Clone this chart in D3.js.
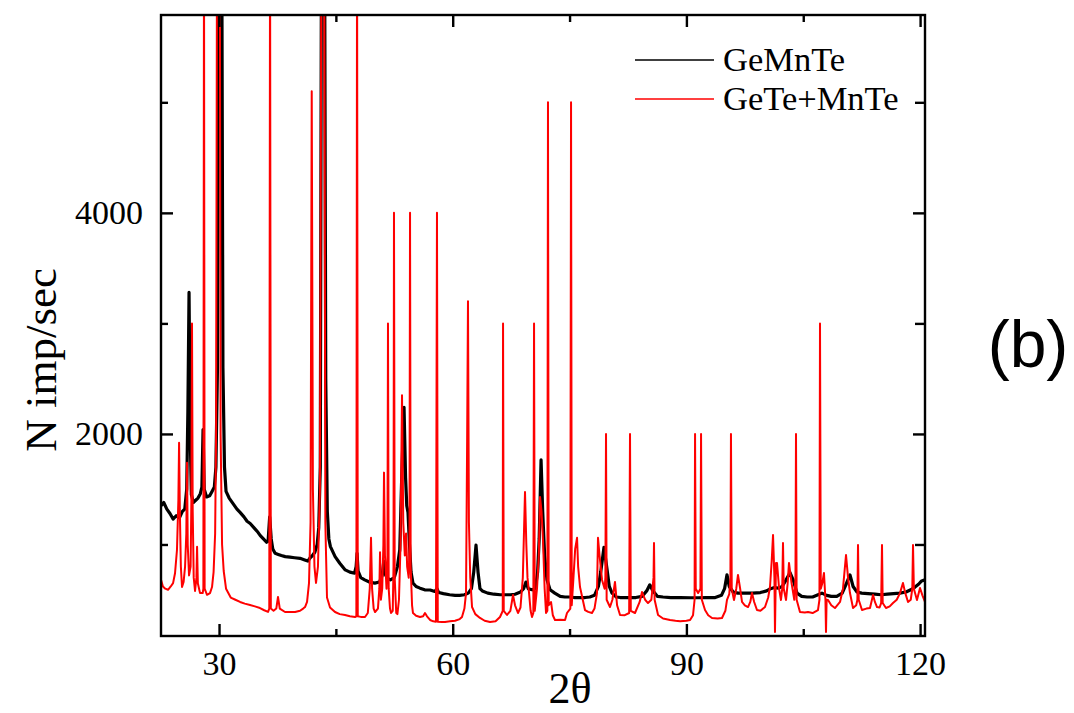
<!DOCTYPE html>
<html><head><meta charset="utf-8">
<script src="https://cdn.jsdelivr.net/npm/d3@7"></script>
<style>body{margin:0;background:#fff}svg{display:block}</style>
</head><body><svg id="c" width="1074" height="713"></svg>
<script>
const seriesNames = ["GeMnTe", "GeTe+MnTe"];
const seriesColors = ["#000000", "#ff0000"];
const xMajorTicks = [30, 60, 90, 120];
const xMinorTicks = [45, 75, 105];
const yMajorTicks = [2000, 4000];
const yMinorTicks = [1000, 3000, 5000];

// GeMnTe: [2theta, N imp/sec]
const geMnTe = [[22.55,1350],[22.9,1380],[23.3,1320],[23.7,1280],[24.1,1230],[24.5,1260],[24.9,1240],[25.3,1300],[25.6,1320],[25.85,1500],[26.0,2200],[26.15,3280],[26.3,2000],[26.45,1450],[26.7,1380],[27.0,1400],[27.3,1420],[27.6,1460],[27.8,1520],[27.95,2040],[28.1,1500],[28.4,1430],[28.8,1440],[29.1,1480],[29.4,1520],[29.6,1700],[29.8,2600],[29.95,6500],[30.35,6500],[30.5,2600],[30.7,1700],[30.9,1480],[31.3,1420],[31.8,1370],[32.3,1320],[32.7,1290],[33.2,1250],[33.6,1210],[34.0,1190],[34.5,1150],[35.0,1110],[35.3,1080],[35.7,1050],[36.1,1020],[36.3,1030],[36.5,1250],[36.7,1050],[36.9,960],[37.2,920],[37.6,910],[38.0,900],[38.5,890],[39.1,885],[39.7,880],[40.4,875],[41.0,860],[41.4,850],[41.7,880],[42.0,900],[42.3,930],[42.6,1000],[42.8,1150],[43.0,1700],[43.15,6500],[43.55,6500],[43.7,2500],[43.9,1300],[44.1,1050],[44.3,980],[44.9,890],[45.5,830],[46.2,770],[46.8,750],[47.4,740],[47.6,800],[47.72,920],[47.85,760],[48.2,700],[48.7,680],[49.3,660],[50.0,650],[50.6,660],[50.95,720],[51.15,850],[51.4,720],[51.7,690],[52.0,680],[52.5,700],[52.9,800],[53.2,950],[53.45,1600],[53.75,2240],[53.95,1600],[54.1,1350],[54.26,1290],[54.45,1000],[54.65,750],[54.9,650],[55.3,620],[55.8,605],[56.4,590],[57.1,588],[57.7,575],[57.98,600],[58.2,565],[58.8,555],[59.6,545],[60.3,540],[60.9,540],[61.5,545],[62.0,560],[62.4,600],[62.7,750],[62.99,995],[63.25,750],[63.5,600],[63.8,580],[64.5,560],[65.3,550],[66.1,545],[66.8,545],[67.4,545],[68.0,550],[68.7,570],[69.1,600],[69.4,660],[69.7,600],[70.2,590],[70.6,600],[70.9,750],[71.1,1050],[71.34,1765],[71.55,1300],[71.8,900],[72.1,680],[72.5,590],[73.1,560],[73.8,530],[74.4,525],[75.0,525],[75.6,520],[76.3,520],[77.0,520],[77.6,525],[78.2,540],[78.7,620],[79.0,750],[79.42,975],[79.8,780],[80.1,620],[80.45,560],[81.0,525],[81.5,520],[82.5,520],[83.5,520],[84.3,530],[84.9,580],[85.3,635],[85.7,580],[86.3,530],[87.0,525],[88.0,520],[89.2,520],[90.5,518],[91.5,518],[92.5,520],[93.7,520],[94.5,540],[94.9,600],[95.21,725],[95.5,620],[96.0,570],[96.6,560],[97.5,560],[98.5,560],[99.5,565],[100.3,580],[100.8,600],[101.3,610],[101.8,605],[102.3,620],[102.8,680],[103.3,745],[103.7,680],[104.2,560],[104.8,530],[105.5,525],[106.2,525],[106.9,545],[107.4,560],[108.0,540],[108.6,530],[109.3,530],[110.0,560],[110.5,640],[111.0,725],[111.4,620],[111.9,570],[112.5,560],[113.3,555],[114.2,550],[115.0,545],[115.8,550],[116.6,555],[117.4,560],[118.2,570],[118.8,590],[119.35,615],[119.8,640],[120.2,670],[120.63,680]];

// GeTe+MnTe: [2theta, N imp/sec]
const geTeMnTe = [[22.55,680],[22.8,620],[23.1,600],[23.45,590],[23.8,620],[24.1,650],[24.35,740],[24.6,950],[24.78,1400],[24.87,1920],[24.97,1300],[25.1,800],[25.25,615],[25.45,660],[25.64,800],[25.8,1100],[25.89,1740],[25.98,1000],[26.15,720],[26.35,800],[26.45,1400],[26.53,3000],[26.62,1300],[26.75,700],[26.92,580],[27.1,700],[27.18,980],[27.28,650],[27.56,560],[27.9,560],[27.99,600],[28.07,6500],[28.15,600],[28.46,545],[28.84,560],[29.1,615],[29.3,750],[29.5,1100],[29.62,2000],[29.74,6500],[30.1,6500],[30.2,2000],[30.39,1000],[30.6,760],[30.9,600],[31.5,520],[32.1,500],[32.7,480],[33.3,465],[33.98,452],[34.6,440],[35.26,425],[35.8,405],[36.29,390],[36.45,420],[36.55,6500],[36.65,420],[37.0,400],[37.35,420],[37.57,525],[37.8,420],[38.47,389],[39.1,390],[39.76,389],[40.4,400],[40.8,420],[41.04,434],[41.3,480],[41.55,650],[41.75,1200],[41.9,5100],[42.05,1500],[42.25,800],[42.45,652],[42.7,800],[42.95,1500],[43.15,6500],[43.5,6500],[43.65,1200],[43.74,900],[43.86,520],[44.25,430],[44.89,389],[45.5,370],[46.17,362],[46.8,350],[47.46,344],[47.63,350],[47.72,6500],[47.81,350],[48.2,345],[48.74,344],[49.1,380],[49.35,600],[49.51,1060],[49.65,600],[49.85,420],[50.03,389],[50.4,420],[50.58,600],[50.67,930],[50.78,500],[50.95,600],[51.1,1000],[51.18,1650],[51.3,900],[51.5,600],[51.62,900],[51.69,3000],[51.78,600],[51.95,420],[52.08,380],[52.3,400],[52.4,800],[52.46,4000],[52.55,700],[52.75,380],[52.9,370],[53.1,500],[53.3,1000],[53.49,2350],[53.65,1200],[53.85,900],[54.01,1100],[54.15,800],[54.35,700],[54.45,1000],[54.52,4000],[54.6,800],[54.78,450],[54.9,380],[55.3,355],[55.8,344],[56.2,350],[56.44,380],[56.7,350],[57.09,317],[57.5,305],[57.85,300],[57.98,4000],[58.08,300],[58.6,299],[59.01,299],[59.65,305],[60.3,310],[60.9,325],[61.19,344],[61.5,420],[61.71,560],[61.85,1930],[61.96,3200],[62.08,1200],[62.25,700],[62.48,434],[62.9,370],[63.5,335],[64.1,310],[64.79,299],[65.5,305],[66.07,344],[66.3,380],[66.42,400],[66.46,3000],[66.55,400],[66.97,362],[67.4,400],[67.74,543],[68.0,450],[68.38,380],[68.7,430],[69.0,700],[69.28,1475],[69.45,1000],[69.6,700],[69.8,560],[70.0,400],[70.18,344],[70.35,380],[70.44,3000],[70.53,400],[70.82,600],[71.05,900],[71.21,1430],[71.4,1300],[71.59,1041],[71.8,600],[71.98,380],[72.15,400],[72.23,5000],[72.32,450],[72.62,480],[72.85,360],[73.13,317],[73.8,318],[74.42,317],[74.67,380],[75.1,420],[75.19,5000],[75.28,450],[75.5,700],[75.72,960],[75.96,1060],[76.1,800],[76.34,615],[76.98,407],[77.4,390],[77.88,380],[78.2,420],[78.52,560],[78.65,1060],[78.85,900],[79.17,679],[79.5,600],[79.6,700],[79.68,2000],[79.76,500],[80.19,434],[80.5,500],[80.83,661],[81.1,450],[81.48,362],[82.1,360],[82.65,380],[82.76,2000],[82.86,400],[83.4,380],[84.0,480],[84.3,570],[84.7,500],[85.07,470],[85.5,500],[85.78,700],[85.84,1014],[85.92,500],[86.36,362],[87.0,330],[87.9,317],[88.6,310],[89.2,305],[90.0,310],[90.47,317],[90.85,360],[91.05,500],[91.11,2000],[91.2,600],[91.5,561],[91.8,600],[91.88,2000],[91.98,500],[92.39,407],[92.8,360],[93.29,335],[94.0,330],[94.57,335],[95.0,400],[95.21,498],[95.5,550],[95.65,700],[95.72,2000],[95.82,600],[96.11,498],[96.4,600],[96.62,724],[96.9,600],[97.14,480],[97.5,450],[97.91,434],[98.2,480],[98.42,561],[98.7,480],[99.06,407],[99.5,400],[100.09,434],[100.5,520],[100.73,615],[100.95,850],[101.12,1086],[101.3,700],[101.37,208],[101.5,833],[101.63,833],[101.9,600],[102.14,498],[102.3,600],[102.4,1014],[102.5,600],[102.79,498],[103.0,650],[103.17,833],[103.5,650],[103.85,500],[104.0,700],[104.07,2000],[104.15,500],[104.58,389],[105.2,385],[105.61,389],[106.2,380],[106.89,407],[107.08,500],[107.15,3000],[107.25,600],[107.45,650],[107.66,742],[107.85,500],[107.92,208],[108.0,500],[108.18,498],[108.6,450],[109.07,425],[109.72,480],[110.1,600],[110.49,905],[110.75,700],[111.0,561],[111.39,425],[111.8,450],[111.95,500],[112.03,995],[112.12,500],[112.54,407],[113.1,420],[113.57,425],[113.96,543],[114.2,480],[114.47,434],[114.8,430],[115.0,470],[115.11,995],[115.2,470],[115.62,425],[116.1,440],[116.52,470],[117.0,500],[117.42,560],[117.8,652],[118.1,560],[118.45,480],[118.8,500],[119.0,600],[119.09,995],[119.2,600],[119.6,498],[119.99,606],[120.3,540],[120.63,480]];

const svg = d3.select("#c");
const L = 161, R = 925, T = 15, B = 636;
const x = d3.scaleLinear().domain([22.55, 120.63]).range([L, R]);
const y = d3.scaleLinear().domain([172, 5790]).range([B, T]);

svg.append("defs").append("clipPath").attr("id","clip")
  .append("rect").attr("x",L).attr("y",T).attr("width",R-L).attr("height",B-T);

const line = d3.line().x(d=>x(d[0])).y(d=>y(d[1]));
const g = svg.append("g").attr("clip-path","url(#clip)");
g.append("path").datum(geMnTe).attr("d",line).attr("fill","none")
  .attr("stroke",seriesColors[0]).attr("stroke-width",3.2).attr("stroke-linejoin","round");
g.append("path").datum(geTeMnTe).attr("d",line).attr("fill","none")
  .attr("stroke",seriesColors[1]).attr("stroke-width",2).attr("stroke-linejoin","round");

// axes with inward ticks
const font = "'Liberation Serif','Times New Roman',serif";
const fmt = d3.format("d");
function axisG(axis, tx, ty){ return svg.append("g").attr("transform",`translate(${tx},${ty})`).call(axis); }
const axBottom = axisG(d3.axisBottom(x).tickValues(xMajorTicks).tickFormat(fmt).tickSizeInner(-12).tickSizeOuter(0).tickPadding(15), 0, B);
axisG(d3.axisBottom(x).tickValues(xMinorTicks).tickSizeInner(-7).tickSizeOuter(0).tickFormat(""), 0, B);
axisG(d3.axisTop(x).tickValues(xMajorTicks).tickSizeInner(-12).tickSizeOuter(0).tickFormat(""), 0, T);
axisG(d3.axisTop(x).tickValues(xMinorTicks).tickSizeInner(-7).tickSizeOuter(0).tickFormat(""), 0, T);
axisG(d3.axisLeft(y).tickValues(yMajorTicks).tickFormat(fmt).tickSizeInner(-12).tickSizeOuter(0).tickPadding(18), L, 0);
axisG(d3.axisLeft(y).tickValues(yMinorTicks).tickSizeInner(-7).tickSizeOuter(0).tickFormat(""), L, 0);
axisG(d3.axisRight(y).tickValues(yMajorTicks).tickSizeInner(-12).tickSizeOuter(0).tickFormat(""), R, 0);
axisG(d3.axisRight(y).tickValues(yMinorTicks).tickSizeInner(-10).tickSizeOuter(0).tickFormat(""), R, 0);
svg.selectAll(".domain").remove();
svg.selectAll(".tick line").attr("stroke","#000").attr("stroke-width",2.4);
svg.selectAll(".tick text").style("font-family",font).style("font-size","34px").attr("fill","#000");
axBottom.selectAll(".tick text").attr("dy","0.71em");

svg.append("rect").attr("x",L).attr("y",T).attr("width",R-L).attr("height",B-T)
  .attr("fill","none").attr("stroke","#000").attr("stroke-width",2.4);

// axis titles
svg.append("text").attr("x",570).attr("y",703).attr("text-anchor","middle")
  .style("font-family",font).style("font-size","44px").text("2θ");
svg.append("text").attr("transform","translate(56,360) rotate(-90)").attr("text-anchor","middle")
  .style("font-family",font).style("font-size","45px").text("N imp/sec");

// panel label
svg.append("text").attr("x",1028).attr("y",367).attr("text-anchor","middle")
  .style("font-family","'Liberation Sans',Arial,sans-serif").style("font-size","66px").text("(b)");

// legend
const leg = svg.append("g");
seriesNames.forEach((n,i)=>{
  const yy = 60 + i*39;
  leg.append("line").attr("x1",635).attr("x2",714).attr("y1",yy).attr("y2",yy)
    .attr("stroke",seriesColors[i]).attr("stroke-width",1.5);
  leg.append("text").attr("x",723).attr("y",yy+11).style("font-family",font)
    .style("font-size","34.5px").text(n);
});
</script></body></html>
